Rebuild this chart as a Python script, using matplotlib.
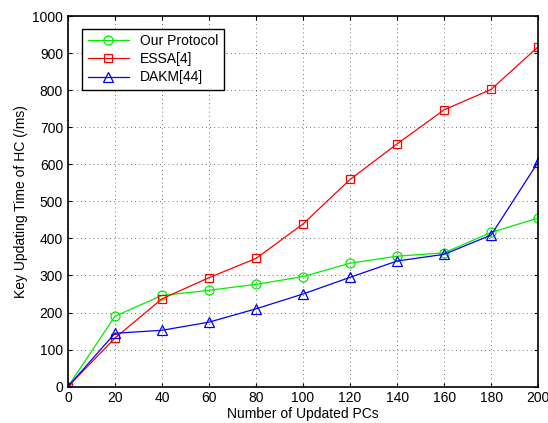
import numpy as np
import matplotlib.pyplot as plt

plt.rcParams['font.family'] = ['Liberation Sans', 'DejaVu Sans']

# data
pcs = [0, 20, 40, 60, 80, 100, 120, 140, 160, 180, 200]
ours = [0, 190, 246, 260, 276, 297, 333, 352, 361, 416, 455]
essa = [0, 131, 237, 294, 346, 439, 559, 655, 747, 802, 917]
dakm = [0, 144, 152, 174, 210, 250, 295, 339, 357, 409, 606]

fig = plt.figure(figsize=(5.48, 4.23), dpi=100)
ax = fig.add_axes([0.124, 0.086, 0.858, 0.876])

ax.plot(pcs, ours, color='#00ee00', lw=0.9, marker='o', ms=6.5,
        mfc='none', mew=0.9, label='Our Protocol')
ax.plot(pcs, essa, color='red', lw=0.9, marker='s', ms=5.5,
        mfc='none', mew=0.9, label='ESSA[4]')
ax.plot(pcs, dakm, color='blue', lw=0.9, marker='^', ms=7,
        mfc='none', mew=0.9, label='DAKM[44]')

ax.set_xlim(0, 200)
ax.set_ylim(0, 1000)
ax.set_xticks(np.arange(0, 201, 20))
ax.set_yticks(np.arange(0, 1001, 100))
ax.tick_params(direction='in', top=True, right=True, labelsize=10, length=3)
ax.grid(True, linestyle=(0, (1, 4)), color='#444444', lw=0.6)
for s in ax.spines.values():
    s.set_linewidth(1.2)

ax.set_xlabel('Number of Updated PCs', fontsize=10, labelpad=1)
ax.set_ylabel('Key Updating Time of HC (/ms)', fontsize=10, labelpad=3)

leg = ax.legend(loc='upper left', fontsize=10, fancybox=False,
                edgecolor='black', framealpha=1, handlelength=3,
                borderpad=0.4, labelspacing=0.3,
                bbox_to_anchor=(0.015, 0.985))
leg.get_frame().set_linewidth(1.0)

fig.savefig('out.png', dpi=100)
